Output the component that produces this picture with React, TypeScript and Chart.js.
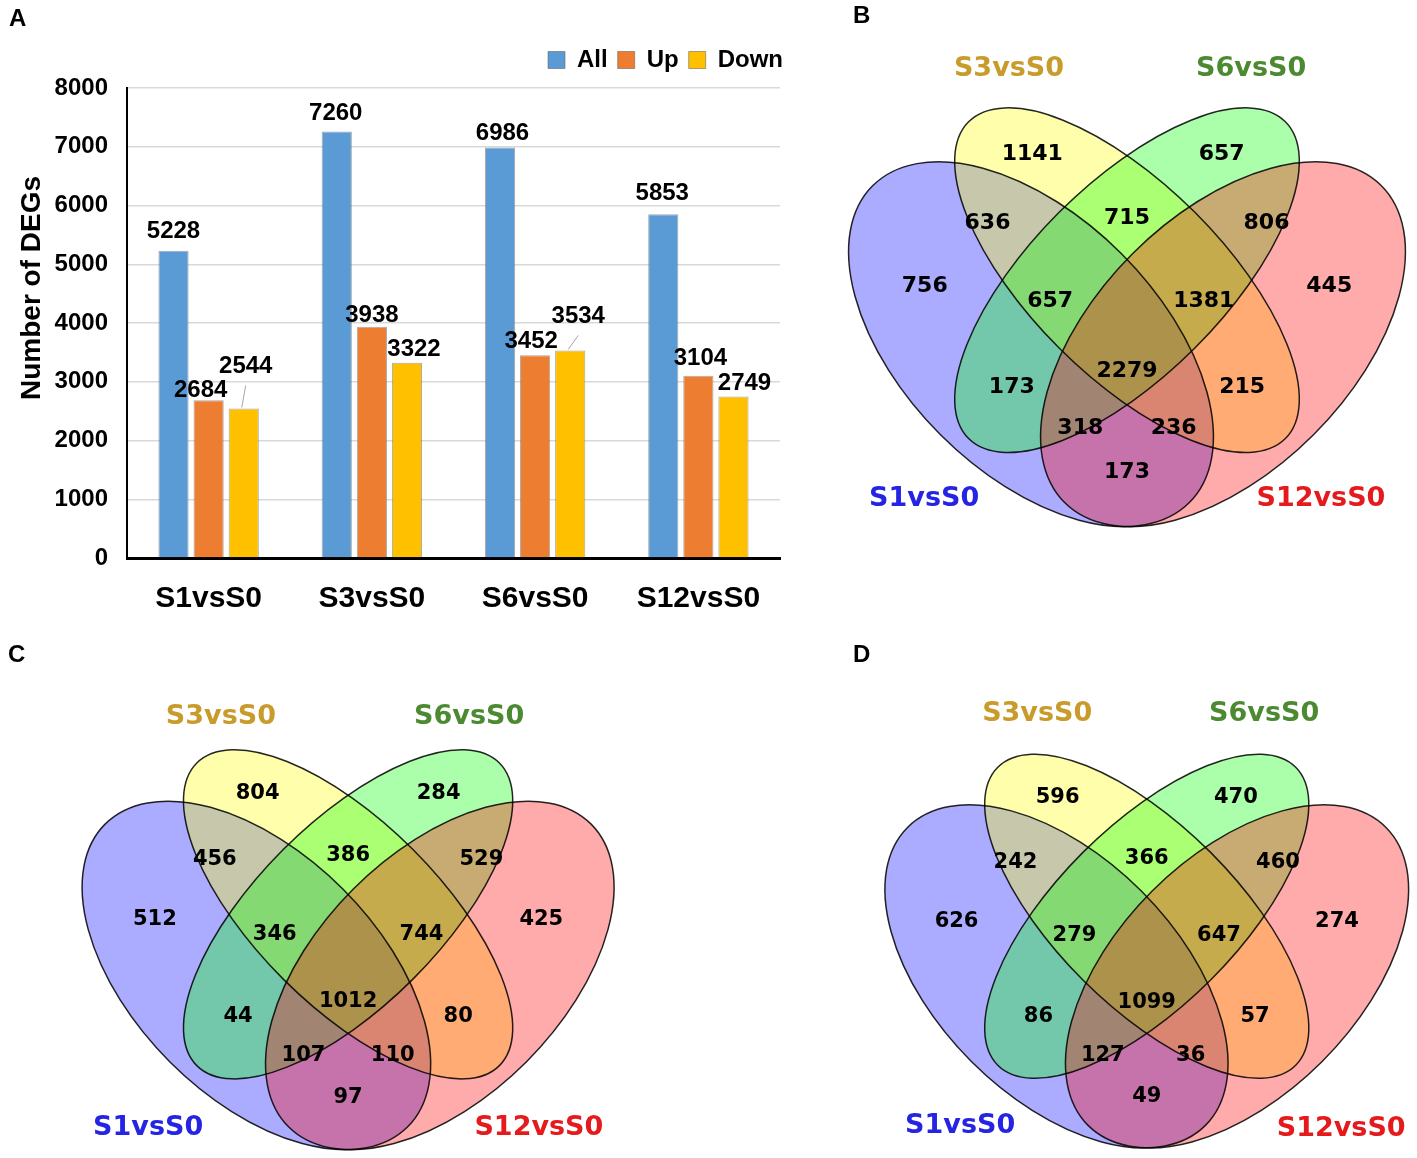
import React, { useEffect, useRef } from 'react';
import { Chart, registerables } from 'chart.js';

Chart.register(...registerables);

const SANS = '"Liberation Sans", Arial, Helvetica, sans-serif';
const VENN_FONT = '"DejaVu Sans", "Noto Sans", sans-serif';
Chart.defaults.font.family = SANS;

// ---------------- Panel A data ----------------
const categories = ['S1vsS0', 'S3vsS0', 'S6vsS0', 'S12vsS0'];
const allDEGs = [5228, 7260, 6986, 5853];
const upDEGs = [2684, 3938, 3452, 3104];
const downDEGs = [2544, 3322, 3534, 2749];
const seriesNames = ['All', 'Up', 'Down'];
const yMin = 0;
const yMax = 8000;
const yStep = 1000;

// label nudges (layout only): [series][category]
const LABEL_DX = [[0, -1, 2.5, -1], [-8, 0, -4, 2], [2, 7, 8, 11]];
const LABEL_RISE = [[19, 18, 14, 21], [10, 11, 13.5, 17], [42, 13, 34, 13]];
const LABEL_LEADER = [[false, false, false, false], [false, false, false, false], [true, false, true, false]];

// ---------------- Venn data ----------------
const setNames = ['S1vsS0', 'S3vsS0', 'S6vsS0', 'S12vsS0'];
const setLabelColors = ['#2424E2', '#C99B2A', '#4B8A30', '#E41A1C'];
// region order: S3, S6, S1S3, S3S6, S6S12, S1, S1S3S6, S3S6S12, S12, S1S6, all, S3S12, S1S6S12, S1S3S12, S1S12
const regionNames = ['S3', 'S6', 'S1&S3', 'S3&S6', 'S6&S12', 'S1', 'S1&S3&S6', 'S3&S6&S12', 'S12', 'S1&S6', 'all', 'S3&S12', 'S1&S6&S12', 'S1&S3&S12', 'S1&S12'];
const countsB = [1141, 657, 636, 715, 806, 756, 657, 1381, 445, 173, 2279, 215, 318, 236, 173];
const countsC = [804, 284, 456, 386, 529, 512, 346, 744, 425, 44, 1012, 80, 107, 110, 97];
const countsD = [596, 470, 242, 366, 460, 626, 279, 647, 274, 86, 1099, 57, 127, 36, 49];

// layout: label anchor of each region in venn unit space
const regionX = [0.352, 0.648, 0.282, 0.5, 0.718, 0.184, 0.38, 0.62, 0.816, 0.32, 0.5, 0.68, 0.427, 0.573, 0.5];
const regionY = [0.767, 0.767, 0.659, 0.666, 0.659, 0.561, 0.5375, 0.5375, 0.561, 0.403, 0.427, 0.403, 0.339, 0.339, 0.27];

// ellipse geometry (unit space), rotation in canvas radians
const ELLIPSES = [
  { cx: 0.35, cy: 0.47, a: 0.35, b: 0.2, rot: Math.PI / 4, fill: 'rgba(0,0,255,0.33)' },
  { cx: 0.5, cy: 0.57, a: 0.35, b: 0.15, rot: Math.PI / 4, fill: 'rgba(255,255,0,0.33)' },
  { cx: 0.5, cy: 0.57, a: 0.35, b: 0.15, rot: -Math.PI / 4, fill: 'rgba(0,255,0,0.33)' },
  { cx: 0.65, cy: 0.47, a: 0.35, b: 0.2, rot: -Math.PI / 4, fill: 'rgba(255,0,0,0.33)' },
];

type VennCfg = {
  left: number; top: number; width: number; height: number;
  ox: number; oy: number; s: number;
  counts: number[];
  labelPos: number[][];
  countSize: number;
  setSize: number;
};

const vennB: VennCfg = {
  left: 830, top: 0, width: 587, height: 545, ox: 807, oy: 645, s: 640,
  counts: countsB,
  labelPos: [[0.183, 0.228], [0.3156, 0.9], [0.694, 0.9], [0.803, 0.228]],
  countSize: 22, setSize: 27,
};
const vennC: VennCfg = {
  left: 0, top: 630, width: 660, height: 528, ox: 42.4, oy: 1262.8, s: 611.4,
  counts: countsC,
  labelPos: [[0.173, 0.22], [0.292, 0.893], [0.698, 0.893], [0.812, 0.22]],
  countSize: 21, setSize: 27,
};
const vennD: VennCfg = {
  left: 830, top: 630, width: 587, height: 528, ox: 845.8, oy: 1259.3, s: 601.9,
  counts: countsD,
  labelPos: [[0.19, 0.222], [0.318, 0.906], [0.695, 0.906], [0.823, 0.2165]],
  countSize: 21, setSize: 27,
};

function BarPanel() {
  const ref = useRef<HTMLCanvasElement>(null);
  useEffect(() => {
    const labelPlugin = {
      id: 'barLabels',
      afterDatasetsDraw(chart: any) {
        const ctx = chart.ctx;
        ctx.save();
        ctx.font = `bold 24px ${SANS}`;
        ctx.fillStyle = '#000';
        ctx.textAlign = 'center';
        ctx.textBaseline = 'middle';
        chart.data.datasets.forEach((ds: any, di: number) => {
          const meta = chart.getDatasetMeta(di);
          meta.data.forEach((bar: any, i: number) => {
            const lx = bar.x + LABEL_DX[di][i];
            const ly = bar.y - LABEL_RISE[di][i];
            if (LABEL_LEADER[di][i]) {
              ctx.save();
              ctx.strokeStyle = '#a6a6a6';
              ctx.lineWidth = 1;
              ctx.beginPath();
              ctx.moveTo(lx, ly + 19);
              ctx.lineTo(bar.x - 2, bar.y - 1);
              ctx.stroke();
              ctx.restore();
            }
            ctx.fillText(String(ds.data[i]), lx, ly);
          });
        });
        ctx.restore();
      },
    };
    const barBorder = 'rgba(95,95,95,0.55)';
    const chart = new Chart(ref.current as HTMLCanvasElement, {
      type: 'bar',
      data: {
        labels: categories,
        datasets: [
          { label: seriesNames[0], data: allDEGs, backgroundColor: '#5B9BD5', borderColor: barBorder, borderWidth: 1, categoryPercentage: 0.645, barPercentage: 0.86 },
          { label: seriesNames[1], data: upDEGs, backgroundColor: '#ED7D31', borderColor: barBorder, borderWidth: 1, categoryPercentage: 0.645, barPercentage: 0.86 },
          { label: seriesNames[2], data: downDEGs, backgroundColor: '#FFC000', borderColor: barBorder, borderWidth: 1, categoryPercentage: 0.645, barPercentage: 0.86 },
        ],
      },
      options: {
        responsive: false,
        animation: false,
        events: [],
        layout: { padding: { top: 38, left: 0, right: 7, bottom: 0 } },
        plugins: {
          legend: {
            position: 'top',
            align: 'end',
            labels: {
              boxWidth: 17,
              boxHeight: 17,
              padding: 10,
              color: '#000',
              font: { family: SANS, size: 24, weight: 'bold' },
            },
          },
          subtitle: {
            display: true,
            text: '',
            position: 'top',
            weight: 500,
            padding: 0,
            font: { size: 6, lineHeight: 1 },
          } as any,
          tooltip: { enabled: false },
        },
        scales: {
          x: {
            grid: { display: false, drawTicks: false },
            border: { color: '#000', width: 3 },
            ticks: { color: '#000', padding: 23, font: { family: SANS, size: 30, weight: 'bold' } },
            afterFit(s: any) { s.height = 72; },
          },
          y: {
            min: yMin,
            max: yMax,
            ticks: {
              stepSize: yStep,
              color: '#000',
              padding: 19,
              font: { family: SANS, size: 24, weight: 'bold' },
              callback: (v: any) => String(v),
            },
            grid: { color: '#d9d9d9', lineWidth: 1.5, drawTicks: false },
            border: { color: '#000', width: 2 },
            title: {
              display: true,
              text: '\u00A0'.repeat(9) + 'Number of DEGs',
              color: '#000',
              font: { family: SANS, size: 28, weight: 'bold' },
              padding: { top: 15, bottom: 0 },
            },
            afterFit(s: any) { s.width = 127; },
          },
          yR: {
            type: 'linear',
            position: 'right',
            display: true,
            ticks: { display: false },
            grid: { display: false, drawTicks: false },
            border: { display: false },
            afterFit(s: any) { s.width = 13; },
          },
        },
      } as any,
      plugins: [labelPlugin],
    });
    return () => chart.destroy();
  }, []);
  return (
    <canvas ref={ref} width={800} height={630} style={{ position: 'absolute', left: 0, top: 0, width: 800, height: 630 }} />
  );
}

function VennPanel({ cfg }: { cfg: VennCfg }) {
  const ref = useRef<HTMLCanvasElement>(null);
  useEffect(() => {
    const { left, top, width, height, ox, oy, s } = cfg;
    const xmin = (left - ox) / s;
    const xmax = (left + width - ox) / s;
    const ymax = (oy - top) / s;
    const ymin = (oy - top - height) / s;
    const plugin = {
      id: 'venn',
      beforeDatasetsDraw(chart: any) {
        const { ctx } = chart;
        const xs = chart.scales.x;
        const ys = chart.scales.y;
        const ppu = xs.getPixelForValue(1) - xs.getPixelForValue(0);
        ctx.save();
        ELLIPSES.forEach((e) => {
          ctx.beginPath();
          ctx.ellipse(xs.getPixelForValue(e.cx), ys.getPixelForValue(e.cy), e.a * ppu, e.b * ppu, e.rot, 0, Math.PI * 2);
          ctx.fillStyle = e.fill;
          ctx.fill();
        });
        ctx.strokeStyle = 'rgba(0,0,0,0.85)';
        ctx.lineWidth = 1.5;
        ELLIPSES.forEach((e) => {
          ctx.beginPath();
          ctx.ellipse(xs.getPixelForValue(e.cx), ys.getPixelForValue(e.cy), e.a * ppu, e.b * ppu, e.rot, 0, Math.PI * 2);
          ctx.stroke();
        });
        ctx.restore();
      },
      afterDatasetsDraw(chart: any) {
        const { ctx } = chart;
        const xs = chart.scales.x;
        const ys = chart.scales.y;
        const meta = chart.getDatasetMeta(0);
        const pts = chart.data.datasets[0].data;
        ctx.save();
        ctx.textAlign = 'center';
        ctx.textBaseline = 'middle';
        ctx.fillStyle = '#000';
        ctx.font = `bold ${cfg.countSize}px ${VENN_FONT}`;
        meta.data.forEach((el: any, i: number) => {
          ctx.fillText(String(pts[i].v), el.x, el.y);
        });
        ctx.font = `bold ${cfg.setSize}px ${VENN_FONT}`;
        setNames.forEach((name, i) => {
          ctx.fillStyle = setLabelColors[i];
          ctx.fillText(name, xs.getPixelForValue(cfg.labelPos[i][0]), ys.getPixelForValue(cfg.labelPos[i][1]));
        });
        ctx.restore();
      },
    };
    const chart = new Chart(ref.current as HTMLCanvasElement, {
      type: 'scatter',
      data: {
        datasets: [
          {
            label: 'regions',
            data: regionX.map((x, i) => ({ x, y: regionY[i], v: cfg.counts[i], name: regionNames[i] })),
            pointRadius: 0,
            pointHoverRadius: 0,
          },
        ],
      },
      options: {
        responsive: false,
        animation: false,
        events: [],
        layout: { padding: 0 },
        plugins: { legend: { display: false }, tooltip: { enabled: false } },
        scales: {
          x: { type: 'linear', min: xmin, max: xmax, display: false },
          y: { type: 'linear', min: ymin, max: ymax, display: false },
        },
      } as any,
      plugins: [plugin],
    });
    return () => chart.destroy();
  }, []);
  return (
    <canvas
      ref={ref}
      width={cfg.width}
      height={cfg.height}
      style={{ position: 'absolute', left: cfg.left, top: cfg.top, width: cfg.width, height: cfg.height }}
    />
  );
}

const letterStyle = (left: number, top: number): React.CSSProperties => ({
  position: 'absolute',
  left,
  top,
  font: `bold 24px ${SANS}`,
  lineHeight: '24px',
  color: '#000',
});

export default function App() {
  return (
    <div style={{ position: 'absolute', left: 0, top: 0, width: 1417, height: 1158, background: '#fff', overflow: 'hidden' }}>
      <BarPanel />
      <VennPanel cfg={vennB} />
      <VennPanel cfg={vennC} />
      <VennPanel cfg={vennD} />
      <div style={letterStyle(9, 6)}>A</div>
      <div style={letterStyle(853, 3)}>B</div>
      <div style={letterStyle(8, 642)}>C</div>
      <div style={letterStyle(853, 642)}>D</div>
    </div>
  );
}
